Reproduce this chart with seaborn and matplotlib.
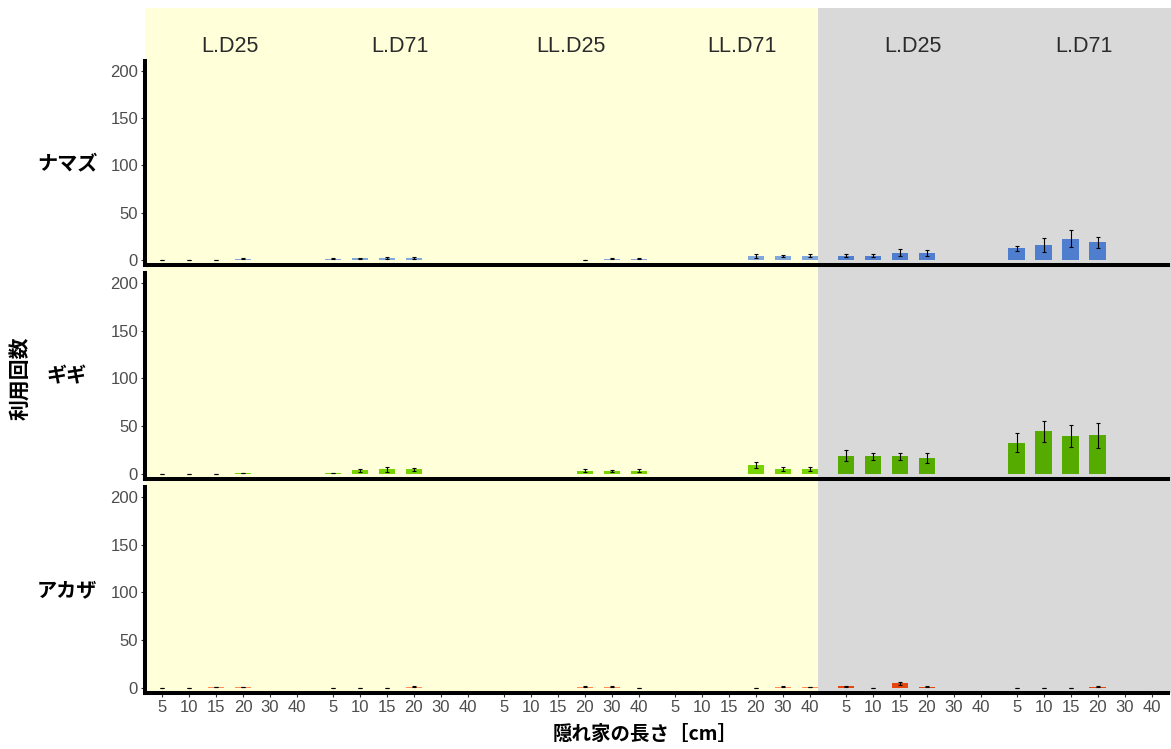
import numpy as np
import pandas as pd
import matplotlib
matplotlib.use("Agg")
import matplotlib.pyplot as plt
import seaborn as sns
from matplotlib.patches import Rectangle
from matplotlib.transforms import blended_transform_factory

# ---------------- data ----------------
species = ["ナマズ", "ギギ", "アカザ"]
panels = ["L.D25", "L.D71", "LL.D25", "LL.D71", "L.D25", "L.D71"]
panel_tone = ["light", "light", "light", "light", "dark", "dark"]
sizes = ["5", "10", "15", "20", "30", "40"]
nan = np.nan

# mean values per panel (6 sizes each)
namazu_mean = [
    [0, 0, 0, 1, nan, nan],
    [1, 1.5, 2, 2, nan, nan],
    [nan, nan, nan, 0, 1, 1],
    [nan, nan, nan, 4, 4, 4.5],
    [4.5, 4.5, 7.5, 7, nan, nan],
    [12, 16, 22.5, 18.5, nan, nan],
]
namazu_err = [
    [0, 0, 0, 0.4, nan, nan],
    [0.5, 0.8, 0.8, 0.8, nan, nan],
    [nan, nan, nan, 0, 0.5, 0.5],
    [nan, nan, nan, 2, 1.5, 2],
    [1.5, 1.2, 3.5, 3, nan, nan],
    [2.2, 7.4, 9.3, 5.6, nan, nan],
]
gigi_mean = [
    [0, 0, 0, 1, nan, nan],
    [1, 3.5, 4.5, 4.5, nan, nan],
    [nan, nan, nan, 3, 2.5, 3],
    [nan, nan, nan, 9, 5.2, 5.2],
    [19, 18.3, 18.3, 16.2, nan, nan],
    [32.5, 44.4, 39.5, 40.2, nan, nan],
]
gigi_err = [
    [0, 0, 0, 0.3, nan, nan],
    [0.3, 1.8, 2.5, 2, nan, nan],
    [nan, nan, nan, 1.5, 1, 1.5],
    [nan, nan, nan, 3.2, 1.8, 2],
    [5.6, 3.7, 3.7, 5.1, nan, nan],
    [10.2, 10.8, 11.5, 12.7, nan, nan],
]
akaza_mean = [
    [0, 0, 1, 1, nan, nan],
    [0, 0, 0, 1, nan, nan],
    [nan, nan, nan, 1, 1, 0],
    [nan, nan, nan, 0, 1, 1],
    [1.5, 0, 4.5, 1, nan, nan],
    [0, 0, 0, 1, nan, nan],
]
akaza_err = [
    [0, 0, 0.3, 0.3, nan, nan],
    [0, 0, 0, 0.5, nan, nan],
    [nan, nan, nan, 0.5, 0.5, 0],
    [nan, nan, nan, 0, 0.5, 0.3],
    [0.5, 0, 1.5, 0.5, nan, nan],
    [0, 0, 0, 0.5, nan, nan],
]
means = [namazu_mean, gigi_mean, akaza_mean]
errs = [namazu_err, gigi_err, akaza_err]

light_colors = ["#80A8DC", "#78D400", "#FF8F55"]
dark_colors = ["#4F7ECF", "#56AB00", "#E6450F"]

# ---------------- layout constants ----------------
W, H = 1171, 749
GROUP_STEP = 6.33
YELLOW = "#FFFFDA"
GRAY = "#D9D9D9"

rows = []
for s, sp in enumerate(species):
    for g, pn in enumerate(panels):
        for i, sz in enumerate(sizes):
            m = means[s][g][i]
            if np.isnan(m):
                continue
            rows.append(dict(species=sp, panel=pn, tone=panel_tone[g], size=sz,
                             pos=g * GROUP_STEP + i, mean=m, err=errs[s][g][i]))
df = pd.DataFrame(rows)

sns.set_theme(style="white")
plt.rcParams["font.family"] = ["Liberation Sans", "Noto Sans CJK JP", "DejaVu Sans"]
CJK = ["Noto Sans CJK JP", "DejaVu Sans"]

fig = plt.figure(figsize=(W / 100, H / 100), dpi=100)
fig.patch.set_facecolor("white")

fig.add_artist(Rectangle((145 / W, 1 - 693 / H), (818 - 145) / W, (693 - 8) / H,
                         transform=fig.transFigure, facecolor=YELLOW,
                         edgecolor="none", zorder=-2))
fig.add_artist(Rectangle((818 / W, 1 - 693 / H), (W - 818) / W, (693 - 8) / H,
                         transform=fig.transFigure, facecolor=GRAY,
                         edgecolor="none", zorder=-2))

tops = [61, 273, 487]
bots = [265, 479, 693]
all_pos = [g * GROUP_STEP + i for g in range(len(panels)) for i in range(len(sizes))]
all_lab = [sz for g in range(len(panels)) for sz in sizes]

axes = []
for r, sp in enumerate(species):
    ax = fig.add_axes([145 / W, 1 - bots[r] / H, (1168 - 145) / W, (bots[r] - tops[r]) / H])
    ax.set_facecolor("none")
    sub = df[df.species == sp]
    sns.barplot(data=sub, x="pos", y="mean", hue="tone",
                palette={"light": light_colors[r], "dark": dark_colors[r]},
                native_scale=True, width=0.6, dodge=False, errorbar=None,
                saturation=1, legend=False, linewidth=0, ax=ax)
    ax.errorbar(sub["pos"], sub["mean"], yerr=sub["err"], fmt="none",
                ecolor="black", elinewidth=0.8, capsize=1.3, capthick=0.8, zorder=3)
    ax.set_xlim(-0.63, 37.26)
    ax.set_ylim(-5.5, 210.5)
    ax.set_yticks([0, 50, 100, 150, 200])
    ax.set_xticks(all_pos)
    ax.set_xlabel("")
    ax.set_ylabel("")
    for side in ["top", "right"]:
        ax.spines[side].set_visible(False)
    for side in ["left", "bottom"]:
        ax.spines[side].set_color("black")
        ax.spines[side].set_linewidth(2.9)
    ax.tick_params(axis="y", length=3, width=0.8, color="#333333",
                   labelsize=12, labelcolor="#4d4d4d", pad=2, left=True)
    if r == len(species) - 1:
        ax.set_xticklabels(all_lab)
        ax.tick_params(axis="x", length=3, width=0.8, color="#333333",
                       labelsize=12, labelcolor="#4d4d4d", pad=2, bottom=True)
    else:
        ax.set_xticklabels([])
        ax.tick_params(axis="x", length=0, bottom=False)
    ax.grid(False)
    fig.text(67 / W, 1 - (tops[r] + bots[r]) / 2 / H, sp, family=CJK,
             fontsize=14.5, fontweight="bold", ha="center", va="center", color="black")
    axes.append(ax)

trans = blended_transform_factory(axes[0].transData, fig.transFigure)
for g, pn in enumerate(panels):
    axes[0].text(g * GROUP_STEP + 2.5, 1 - 47 / H, pn, transform=trans,
                 fontsize=15.5, color="#2b2b2b", ha="center", va="center")

fig.text(21 / W, 1 - 378 / H, "利用回数", family=CJK, rotation=90,
         fontsize=15, fontweight="bold", ha="center", va="center", color="black")
fig.text(645 / W, 1 - 734 / H, "隠れ家の長さ［cm］", family=CJK,
         fontsize=14, fontweight="bold", ha="center", va="center", color="black")

fig.savefig("out.png", dpi=100)
